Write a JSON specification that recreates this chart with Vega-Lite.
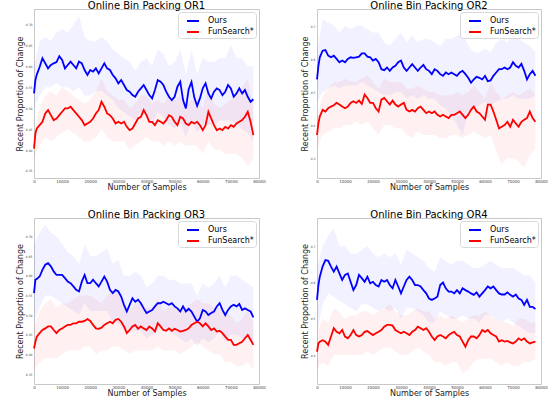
{
"$schema": "https://vega.github.io/schema/vega-lite/v6.json",
"padding": {"left": 15, "top": 0, "right": 0, "bottom": 0},
"background": "white",
"datasets": {
"lines": [
{"p":1,"x":0,"o":0.535,"f":0.403},{"p":1,"x":500,"o":0.567,"f":0.439},{"p":1,"x":1000,"o":0.580,"f":0.451},{"p":1,"x":2000,"o":0.598,"f":0.459},{"p":1,"x":3000,"o":0.619,"f":0.467},{"p":1,"x":4000,"o":0.607,"f":0.487},{"p":1,"x":5000,"o":0.595,"f":0.495},{"p":1,"x":6000,"o":0.603,"f":0.483},{"p":1,"x":7000,"o":0.607,"f":0.471},{"p":1,"x":8000,"o":0.610,"f":0.475},{"p":1,"x":9000,"o":0.624,"f":0.483},{"p":1,"x":10000,"o":0.615,"f":0.491},{"p":1,"x":11000,"o":0.595,"f":0.499},{"p":1,"x":12000,"o":0.603,"f":0.499},{"p":1,"x":13000,"o":0.611,"f":0.503},{"p":1,"x":14000,"o":0.603,"f":0.495},{"p":1,"x":15000,"o":0.595,"f":0.487},{"p":1,"x":16000,"o":0.611,"f":0.479},{"p":1,"x":17000,"o":0.607,"f":0.471},{"p":1,"x":18000,"o":0.591,"f":0.459},{"p":1,"x":19000,"o":0.579,"f":0.463},{"p":1,"x":20000,"o":0.591,"f":0.467},{"p":1,"x":21000,"o":0.587,"f":0.475},{"p":1,"x":22000,"o":0.595,"f":0.487},{"p":1,"x":23000,"o":0.583,"f":0.495},{"p":1,"x":24000,"o":0.595,"f":0.515},{"p":1,"x":25000,"o":0.607,"f":0.503},{"p":1,"x":26000,"o":0.595,"f":0.487},{"p":1,"x":27000,"o":0.591,"f":0.483},{"p":1,"x":28000,"o":0.579,"f":0.475},{"p":1,"x":29000,"o":0.571,"f":0.463},{"p":1,"x":30000,"o":0.559,"f":0.467},{"p":1,"x":31000,"o":0.567,"f":0.463},{"p":1,"x":32000,"o":0.555,"f":0.467},{"p":1,"x":33000,"o":0.543,"f":0.455},{"p":1,"x":34000,"o":0.539,"f":0.447},{"p":1,"x":35000,"o":0.531,"f":0.451},{"p":1,"x":36000,"o":0.527,"f":0.463},{"p":1,"x":37000,"o":0.539,"f":0.475},{"p":1,"x":38000,"o":0.547,"f":0.479},{"p":1,"x":39000,"o":0.555,"f":0.495},{"p":1,"x":40000,"o":0.543,"f":0.483},{"p":1,"x":41000,"o":0.531,"f":0.467},{"p":1,"x":42000,"o":0.523,"f":0.467},{"p":1,"x":43000,"o":0.543,"f":0.459},{"p":1,"x":44000,"o":0.567,"f":0.471},{"p":1,"x":45000,"o":0.563,"f":0.467},{"p":1,"x":46000,"o":0.555,"f":0.463},{"p":1,"x":47000,"o":0.539,"f":0.471},{"p":1,"x":48000,"o":0.527,"f":0.483},{"p":1,"x":49000,"o":0.519,"f":0.479},{"p":1,"x":50000,"o":0.527,"f":0.467},{"p":1,"x":51000,"o":0.551,"f":0.459},{"p":1,"x":52000,"o":0.563,"f":0.479},{"p":1,"x":53000,"o":0.519,"f":0.475},{"p":1,"x":54000,"o":0.499,"f":0.463},{"p":1,"x":55000,"o":0.545,"f":0.459},{"p":1,"x":56000,"o":0.562,"f":0.467},{"p":1,"x":57000,"o":0.525,"f":0.463},{"p":1,"x":58000,"o":0.505,"f":0.467},{"p":1,"x":59000,"o":0.523,"f":0.459},{"p":1,"x":60000,"o":0.547,"f":0.447},{"p":1,"x":61000,"o":0.559,"f":0.459},{"p":1,"x":62000,"o":0.535,"f":0.491},{"p":1,"x":63000,"o":0.523,"f":0.475},{"p":1,"x":64000,"o":0.539,"f":0.459},{"p":1,"x":65000,"o":0.547,"f":0.447},{"p":1,"x":66000,"o":0.543,"f":0.451},{"p":1,"x":67000,"o":0.531,"f":0.447},{"p":1,"x":68000,"o":0.539,"f":0.455},{"p":1,"x":69000,"o":0.555,"f":0.451},{"p":1,"x":70000,"o":0.547,"f":0.459},{"p":1,"x":71000,"o":0.527,"f":0.455},{"p":1,"x":72000,"o":0.535,"f":0.463},{"p":1,"x":73000,"o":0.547,"f":0.467},{"p":1,"x":74000,"o":0.535,"f":0.471},{"p":1,"x":75000,"o":0.543,"f":0.479},{"p":1,"x":76000,"o":0.527,"f":0.491},{"p":1,"x":77000,"o":0.515,"f":0.467},{"p":1,"x":78000,"o":0.521,"f":0.435},
{"p":2,"x":0,"o":0.538,"f":0.370},{"p":2,"x":500,"o":0.579,"f":0.405},{"p":2,"x":1000,"o":0.605,"f":0.426},{"p":2,"x":2000,"o":0.625,"f":0.446},{"p":2,"x":3000,"o":0.627,"f":0.441},{"p":2,"x":4000,"o":0.610,"f":0.451},{"p":2,"x":5000,"o":0.605,"f":0.456},{"p":2,"x":6000,"o":0.610,"f":0.460},{"p":2,"x":7000,"o":0.600,"f":0.467},{"p":2,"x":8000,"o":0.590,"f":0.462},{"p":2,"x":9000,"o":0.595,"f":0.456},{"p":2,"x":10000,"o":0.590,"f":0.451},{"p":2,"x":11000,"o":0.600,"f":0.456},{"p":2,"x":12000,"o":0.605,"f":0.467},{"p":2,"x":13000,"o":0.603,"f":0.472},{"p":2,"x":14000,"o":0.605,"f":0.467},{"p":2,"x":15000,"o":0.607,"f":0.474},{"p":2,"x":16000,"o":0.617,"f":0.464},{"p":2,"x":17000,"o":0.617,"f":0.492},{"p":2,"x":18000,"o":0.607,"f":0.482},{"p":2,"x":19000,"o":0.605,"f":0.467},{"p":2,"x":20000,"o":0.595,"f":0.467},{"p":2,"x":21000,"o":0.600,"f":0.451},{"p":2,"x":22000,"o":0.590,"f":0.441},{"p":2,"x":23000,"o":0.569,"f":0.477},{"p":2,"x":24000,"o":0.566,"f":0.482},{"p":2,"x":25000,"o":0.574,"f":0.472},{"p":2,"x":26000,"o":0.564,"f":0.462},{"p":2,"x":27000,"o":0.574,"f":0.474},{"p":2,"x":28000,"o":0.579,"f":0.462},{"p":2,"x":29000,"o":0.590,"f":0.456},{"p":2,"x":30000,"o":0.595,"f":0.462},{"p":2,"x":31000,"o":0.574,"f":0.467},{"p":2,"x":32000,"o":0.564,"f":0.446},{"p":2,"x":33000,"o":0.574,"f":0.441},{"p":2,"x":34000,"o":0.584,"f":0.446},{"p":2,"x":35000,"o":0.574,"f":0.441},{"p":2,"x":36000,"o":0.564,"f":0.451},{"p":2,"x":37000,"o":0.574,"f":0.456},{"p":2,"x":38000,"o":0.582,"f":0.446},{"p":2,"x":39000,"o":0.569,"f":0.436},{"p":2,"x":40000,"o":0.564,"f":0.441},{"p":2,"x":41000,"o":0.554,"f":0.436},{"p":2,"x":42000,"o":0.569,"f":0.441},{"p":2,"x":43000,"o":0.564,"f":0.431},{"p":2,"x":44000,"o":0.554,"f":0.426},{"p":2,"x":45000,"o":0.549,"f":0.431},{"p":2,"x":46000,"o":0.559,"f":0.426},{"p":2,"x":47000,"o":0.554,"f":0.421},{"p":2,"x":48000,"o":0.559,"f":0.431},{"p":2,"x":49000,"o":0.554,"f":0.431},{"p":2,"x":50000,"o":0.549,"f":0.436},{"p":2,"x":51000,"o":0.559,"f":0.441},{"p":2,"x":52000,"o":0.564,"f":0.431},{"p":2,"x":53000,"o":0.554,"f":0.421},{"p":2,"x":54000,"o":0.543,"f":0.431},{"p":2,"x":55000,"o":0.528,"f":0.446},{"p":2,"x":56000,"o":0.538,"f":0.456},{"p":2,"x":57000,"o":0.546,"f":0.441},{"p":2,"x":58000,"o":0.543,"f":0.436},{"p":2,"x":59000,"o":0.538,"f":0.426},{"p":2,"x":60000,"o":0.549,"f":0.416},{"p":2,"x":61000,"o":0.533,"f":0.462},{"p":2,"x":62000,"o":0.535,"f":0.462},{"p":2,"x":63000,"o":0.549,"f":0.441},{"p":2,"x":64000,"o":0.559,"f":0.416},{"p":2,"x":65000,"o":0.569,"f":0.390},{"p":2,"x":66000,"o":0.569,"f":0.395},{"p":2,"x":67000,"o":0.574,"f":0.400},{"p":2,"x":68000,"o":0.569,"f":0.410},{"p":2,"x":69000,"o":0.574,"f":0.395},{"p":2,"x":70000,"o":0.590,"f":0.416},{"p":2,"x":71000,"o":0.579,"f":0.405},{"p":2,"x":72000,"o":0.574,"f":0.395},{"p":2,"x":73000,"o":0.585,"f":0.410},{"p":2,"x":74000,"o":0.564,"f":0.416},{"p":2,"x":75000,"o":0.538,"f":0.421},{"p":2,"x":76000,"o":0.554,"f":0.441},{"p":2,"x":77000,"o":0.564,"f":0.421},{"p":2,"x":78000,"o":0.549,"f":0.410},
{"p":3,"x":0,"o":0.556,"f":0.415},{"p":3,"x":500,"o":0.590,"f":0.432},{"p":3,"x":1000,"o":0.592,"f":0.445},{"p":3,"x":2000,"o":0.598,"f":0.454},{"p":3,"x":3000,"o":0.615,"f":0.462},{"p":3,"x":4000,"o":0.628,"f":0.466},{"p":3,"x":5000,"o":0.632,"f":0.471},{"p":3,"x":6000,"o":0.624,"f":0.471},{"p":3,"x":7000,"o":0.611,"f":0.462},{"p":3,"x":8000,"o":0.602,"f":0.454},{"p":3,"x":9000,"o":0.602,"f":0.462},{"p":3,"x":10000,"o":0.602,"f":0.466},{"p":3,"x":11000,"o":0.594,"f":0.471},{"p":3,"x":12000,"o":0.585,"f":0.475},{"p":3,"x":13000,"o":0.581,"f":0.475},{"p":3,"x":14000,"o":0.573,"f":0.479},{"p":3,"x":15000,"o":0.564,"f":0.479},{"p":3,"x":16000,"o":0.560,"f":0.483},{"p":3,"x":17000,"o":0.585,"f":0.483},{"p":3,"x":18000,"o":0.602,"f":0.485},{"p":3,"x":19000,"o":0.581,"f":0.490},{"p":3,"x":20000,"o":0.581,"f":0.485},{"p":3,"x":21000,"o":0.590,"f":0.475},{"p":3,"x":22000,"o":0.581,"f":0.466},{"p":3,"x":23000,"o":0.573,"f":0.465},{"p":3,"x":24000,"o":0.585,"f":0.468},{"p":3,"x":25000,"o":0.598,"f":0.475},{"p":3,"x":26000,"o":0.585,"f":0.479},{"p":3,"x":27000,"o":0.564,"f":0.483},{"p":3,"x":28000,"o":0.556,"f":0.479},{"p":3,"x":29000,"o":0.564,"f":0.488},{"p":3,"x":30000,"o":0.560,"f":0.490},{"p":3,"x":31000,"o":0.547,"f":0.483},{"p":3,"x":32000,"o":0.526,"f":0.471},{"p":3,"x":33000,"o":0.509,"f":0.454},{"p":3,"x":34000,"o":0.526,"f":0.462},{"p":3,"x":35000,"o":0.543,"f":0.471},{"p":3,"x":36000,"o":0.534,"f":0.475},{"p":3,"x":37000,"o":0.539,"f":0.465},{"p":3,"x":38000,"o":0.530,"f":0.471},{"p":3,"x":39000,"o":0.517,"f":0.466},{"p":3,"x":40000,"o":0.505,"f":0.462},{"p":3,"x":41000,"o":0.509,"f":0.471},{"p":3,"x":42000,"o":0.513,"f":0.466},{"p":3,"x":43000,"o":0.522,"f":0.458},{"p":3,"x":44000,"o":0.530,"f":0.479},{"p":3,"x":45000,"o":0.530,"f":0.471},{"p":3,"x":46000,"o":0.534,"f":0.462},{"p":3,"x":47000,"o":0.530,"f":0.460},{"p":3,"x":48000,"o":0.526,"f":0.466},{"p":3,"x":49000,"o":0.530,"f":0.460},{"p":3,"x":50000,"o":0.522,"f":0.465},{"p":3,"x":51000,"o":0.517,"f":0.462},{"p":3,"x":52000,"o":0.509,"f":0.458},{"p":3,"x":53000,"o":0.522,"f":0.460},{"p":3,"x":54000,"o":0.509,"f":0.462},{"p":3,"x":55000,"o":0.516,"f":0.466},{"p":3,"x":56000,"o":0.509,"f":0.475},{"p":3,"x":57000,"o":0.496,"f":0.479},{"p":3,"x":58000,"o":0.483,"f":0.483},{"p":3,"x":59000,"o":0.492,"f":0.479},{"p":3,"x":60000,"o":0.513,"f":0.471},{"p":3,"x":61000,"o":0.509,"f":0.479},{"p":3,"x":62000,"o":0.500,"f":0.471},{"p":3,"x":63000,"o":0.505,"f":0.462},{"p":3,"x":64000,"o":0.509,"f":0.466},{"p":3,"x":65000,"o":0.522,"f":0.458},{"p":3,"x":66000,"o":0.530,"f":0.460},{"p":3,"x":67000,"o":0.513,"f":0.454},{"p":3,"x":68000,"o":0.500,"f":0.445},{"p":3,"x":69000,"o":0.513,"f":0.437},{"p":3,"x":70000,"o":0.522,"f":0.437},{"p":3,"x":71000,"o":0.526,"f":0.424},{"p":3,"x":72000,"o":0.522,"f":0.424},{"p":3,"x":73000,"o":0.528,"f":0.428},{"p":3,"x":74000,"o":0.513,"f":0.432},{"p":3,"x":75000,"o":0.517,"f":0.441},{"p":3,"x":76000,"o":0.513,"f":0.449},{"p":3,"x":77000,"o":0.509,"f":0.437},{"p":3,"x":78000,"o":0.494,"f":0.424},
{"p":4,"x":0,"o":0.552,"f":0.409},{"p":4,"x":500,"o":0.593,"f":0.432},{"p":4,"x":1000,"o":0.616,"f":0.437},{"p":4,"x":2000,"o":0.644,"f":0.441},{"p":4,"x":3000,"o":0.662,"f":0.437},{"p":4,"x":4000,"o":0.660,"f":0.428},{"p":4,"x":5000,"o":0.644,"f":0.451},{"p":4,"x":6000,"o":0.630,"f":0.474},{"p":4,"x":7000,"o":0.644,"f":0.464},{"p":4,"x":8000,"o":0.625,"f":0.460},{"p":4,"x":9000,"o":0.607,"f":0.469},{"p":4,"x":10000,"o":0.621,"f":0.451},{"p":4,"x":11000,"o":0.625,"f":0.446},{"p":4,"x":12000,"o":0.602,"f":0.455},{"p":4,"x":13000,"o":0.579,"f":0.469},{"p":4,"x":14000,"o":0.593,"f":0.455},{"p":4,"x":15000,"o":0.621,"f":0.451},{"p":4,"x":16000,"o":0.612,"f":0.455},{"p":4,"x":17000,"o":0.602,"f":0.464},{"p":4,"x":18000,"o":0.616,"f":0.466},{"p":4,"x":19000,"o":0.598,"f":0.460},{"p":4,"x":20000,"o":0.602,"f":0.455},{"p":4,"x":21000,"o":0.593,"f":0.460},{"p":4,"x":22000,"o":0.589,"f":0.464},{"p":4,"x":23000,"o":0.607,"f":0.469},{"p":4,"x":24000,"o":0.602,"f":0.478},{"p":4,"x":25000,"o":0.607,"f":0.483},{"p":4,"x":26000,"o":0.593,"f":0.483},{"p":4,"x":27000,"o":0.584,"f":0.481},{"p":4,"x":28000,"o":0.607,"f":0.469},{"p":4,"x":29000,"o":0.589,"f":0.464},{"p":4,"x":30000,"o":0.570,"f":0.460},{"p":4,"x":31000,"o":0.589,"f":0.464},{"p":4,"x":32000,"o":0.607,"f":0.460},{"p":4,"x":33000,"o":0.616,"f":0.455},{"p":4,"x":34000,"o":0.607,"f":0.464},{"p":4,"x":35000,"o":0.593,"f":0.469},{"p":4,"x":36000,"o":0.593,"f":0.478},{"p":4,"x":37000,"o":0.589,"f":0.474},{"p":4,"x":38000,"o":0.579,"f":0.469},{"p":4,"x":39000,"o":0.570,"f":0.474},{"p":4,"x":40000,"o":0.556,"f":0.464},{"p":4,"x":41000,"o":0.552,"f":0.451},{"p":4,"x":42000,"o":0.556,"f":0.441},{"p":4,"x":43000,"o":0.561,"f":0.451},{"p":4,"x":44000,"o":0.593,"f":0.455},{"p":4,"x":45000,"o":0.600,"f":0.451},{"p":4,"x":46000,"o":0.584,"f":0.446},{"p":4,"x":47000,"o":0.575,"f":0.455},{"p":4,"x":48000,"o":0.575,"f":0.460},{"p":4,"x":49000,"o":0.570,"f":0.464},{"p":4,"x":50000,"o":0.579,"f":0.455},{"p":4,"x":51000,"o":0.570,"f":0.451},{"p":4,"x":52000,"o":0.584,"f":0.437},{"p":4,"x":53000,"o":0.579,"f":0.423},{"p":4,"x":54000,"o":0.575,"f":0.441},{"p":4,"x":55000,"o":0.570,"f":0.451},{"p":4,"x":56000,"o":0.566,"f":0.451},{"p":4,"x":57000,"o":0.573,"f":0.446},{"p":4,"x":58000,"o":0.561,"f":0.455},{"p":4,"x":59000,"o":0.570,"f":0.469},{"p":4,"x":60000,"o":0.579,"f":0.464},{"p":4,"x":61000,"o":0.589,"f":0.469},{"p":4,"x":62000,"o":0.584,"f":0.460},{"p":4,"x":63000,"o":0.589,"f":0.455},{"p":4,"x":64000,"o":0.579,"f":0.451},{"p":4,"x":65000,"o":0.570,"f":0.437},{"p":4,"x":66000,"o":0.567,"f":0.441},{"p":4,"x":67000,"o":0.567,"f":0.437},{"p":4,"x":68000,"o":0.573,"f":0.439},{"p":4,"x":69000,"o":0.566,"f":0.435},{"p":4,"x":70000,"o":0.561,"f":0.432},{"p":4,"x":71000,"o":0.567,"f":0.437},{"p":4,"x":72000,"o":0.556,"f":0.446},{"p":4,"x":73000,"o":0.552,"f":0.441},{"p":4,"x":74000,"o":0.538,"f":0.446},{"p":4,"x":75000,"o":0.552,"f":0.437},{"p":4,"x":76000,"o":0.533,"f":0.432},{"p":4,"x":77000,"o":0.533,"f":0.435},{"p":4,"x":78000,"o":0.527,"f":0.437}
],
"bands": [
{"p":1,"x":0,"ol":0.50,"oh":0.60,"fl":0.38,"fh":0.44},{"p":1,"x":2000,"ol":0.53,"oh":0.66,"fl":0.41,"fh":0.50},{"p":1,"x":4000,"ol":0.55,"oh":0.67,"fl":0.43,"fh":0.53},{"p":1,"x":6000,"ol":0.55,"oh":0.66,"fl":0.42,"fh":0.54},{"p":1,"x":8000,"ol":0.56,"oh":0.68,"fl":0.43,"fh":0.53},{"p":1,"x":10000,"ol":0.55,"oh":0.69,"fl":0.44,"fh":0.55},{"p":1,"x":12000,"ol":0.55,"oh":0.68,"fl":0.45,"fh":0.54},{"p":1,"x":14000,"ol":0.54,"oh":0.70,"fl":0.44,"fh":0.53},{"p":1,"x":16000,"ol":0.55,"oh":0.72,"fl":0.43,"fh":0.52},{"p":1,"x":18000,"ol":0.53,"oh":0.67,"fl":0.42,"fh":0.51},{"p":1,"x":20000,"ol":0.53,"oh":0.66,"fl":0.42,"fh":0.52},{"p":1,"x":22000,"ol":0.54,"oh":0.66,"fl":0.43,"fh":0.54},{"p":1,"x":24000,"ol":0.54,"oh":0.67,"fl":0.45,"fh":0.57},{"p":1,"x":26000,"ol":0.53,"oh":0.66,"fl":0.43,"fh":0.54},{"p":1,"x":28000,"ol":0.52,"oh":0.64,"fl":0.42,"fh":0.53},{"p":1,"x":30000,"ol":0.50,"oh":0.63,"fl":0.42,"fh":0.52},{"p":1,"x":32000,"ol":0.49,"oh":0.62,"fl":0.42,"fh":0.52},{"p":1,"x":34000,"ol":0.48,"oh":0.61,"fl":0.40,"fh":0.50},{"p":1,"x":36000,"ol":0.47,"oh":0.59,"fl":0.41,"fh":0.51},{"p":1,"x":38000,"ol":0.49,"oh":0.61,"fl":0.42,"fh":0.53},{"p":1,"x":40000,"ol":0.48,"oh":0.62,"fl":0.43,"fh":0.53},{"p":1,"x":42000,"ol":0.46,"oh":0.60,"fl":0.42,"fh":0.51},{"p":1,"x":44000,"ol":0.49,"oh":0.64,"fl":0.42,"fh":0.52},{"p":1,"x":46000,"ol":0.48,"oh":0.63,"fl":0.41,"fh":0.51},{"p":1,"x":48000,"ol":0.46,"oh":0.60,"fl":0.42,"fh":0.53},{"p":1,"x":50000,"ol":0.45,"oh":0.61,"fl":0.41,"fh":0.52},{"p":1,"x":52000,"ol":0.47,"oh":0.64,"fl":0.42,"fh":0.53},{"p":1,"x":54000,"ol":0.43,"oh":0.58,"fl":0.41,"fh":0.51},{"p":1,"x":56000,"ol":0.47,"oh":0.64,"fl":0.41,"fh":0.52},{"p":1,"x":58000,"ol":0.44,"oh":0.58,"fl":0.41,"fh":0.52},{"p":1,"x":60000,"ol":0.46,"oh":0.62,"fl":0.39,"fh":0.50},{"p":1,"x":62000,"ol":0.46,"oh":0.61,"fl":0.42,"fh":0.55},{"p":1,"x":64000,"ol":0.46,"oh":0.61,"fl":0.40,"fh":0.51},{"p":1,"x":66000,"ol":0.47,"oh":0.62,"fl":0.40,"fh":0.50},{"p":1,"x":68000,"ol":0.47,"oh":0.62,"fl":0.39,"fh":0.51},{"p":1,"x":70000,"ol":0.47,"oh":0.65,"fl":0.39,"fh":0.52},{"p":1,"x":72000,"ol":0.46,"oh":0.62,"fl":0.39,"fh":0.53},{"p":1,"x":74000,"ol":0.45,"oh":0.62,"fl":0.38,"fh":0.55},{"p":1,"x":76000,"ol":0.44,"oh":0.60,"fl":0.36,"fh":0.57},{"p":1,"x":78000,"ol":0.42,"oh":0.60,"fl":0.38,"fh":0.50},
{"p":2,"x":0,"ol":0.47,"oh":0.62,"fl":0.33,"fh":0.42},{"p":2,"x":2000,"ol":0.50,"oh":0.72,"fl":0.37,"fh":0.49},{"p":2,"x":4000,"ol":0.51,"oh":0.71,"fl":0.38,"fh":0.51},{"p":2,"x":6000,"ol":0.52,"oh":0.70,"fl":0.39,"fh":0.53},{"p":2,"x":8000,"ol":0.51,"oh":0.68,"fl":0.39,"fh":0.53},{"p":2,"x":10000,"ol":0.52,"oh":0.70,"fl":0.40,"fh":0.54},{"p":2,"x":12000,"ol":0.52,"oh":0.69,"fl":0.40,"fh":0.53},{"p":2,"x":14000,"ol":0.52,"oh":0.70,"fl":0.41,"fh":0.53},{"p":2,"x":16000,"ol":0.53,"oh":0.70,"fl":0.40,"fh":0.54},{"p":2,"x":18000,"ol":0.52,"oh":0.69,"fl":0.41,"fh":0.55},{"p":2,"x":20000,"ol":0.51,"oh":0.68,"fl":0.39,"fh":0.53},{"p":2,"x":22000,"ol":0.50,"oh":0.68,"fl":0.37,"fh":0.51},{"p":2,"x":24000,"ol":0.49,"oh":0.65,"fl":0.40,"fh":0.54},{"p":2,"x":26000,"ol":0.49,"oh":0.64,"fl":0.40,"fh":0.53},{"p":2,"x":28000,"ol":0.50,"oh":0.66,"fl":0.39,"fh":0.53},{"p":2,"x":30000,"ol":0.50,"oh":0.68,"fl":0.39,"fh":0.53},{"p":2,"x":32000,"ol":0.48,"oh":0.65,"fl":0.37,"fh":0.51},{"p":2,"x":34000,"ol":0.49,"oh":0.67,"fl":0.36,"fh":0.51},{"p":2,"x":36000,"ol":0.48,"oh":0.65,"fl":0.38,"fh":0.52},{"p":2,"x":38000,"ol":0.49,"oh":0.66,"fl":0.37,"fh":0.51},{"p":2,"x":40000,"ol":0.48,"oh":0.66,"fl":0.37,"fh":0.50},{"p":2,"x":42000,"ol":0.48,"oh":0.65,"fl":0.37,"fh":0.50},{"p":2,"x":44000,"ol":0.46,"oh":0.64,"fl":0.36,"fh":0.49},{"p":2,"x":46000,"ol":0.45,"oh":0.66,"fl":0.36,"fh":0.49},{"p":2,"x":48000,"ol":0.43,"oh":0.66,"fl":0.37,"fh":0.49},{"p":2,"x":50000,"ol":0.40,"oh":0.67,"fl":0.37,"fh":0.50},{"p":2,"x":52000,"ol":0.37,"oh":0.68,"fl":0.36,"fh":0.49},{"p":2,"x":54000,"ol":0.44,"oh":0.64,"fl":0.37,"fh":0.50},{"p":2,"x":56000,"ol":0.45,"oh":0.62,"fl":0.38,"fh":0.52},{"p":2,"x":58000,"ol":0.46,"oh":0.62,"fl":0.37,"fh":0.50},{"p":2,"x":60000,"ol":0.47,"oh":0.63,"fl":0.36,"fh":0.48},{"p":2,"x":62000,"ol":0.46,"oh":0.62,"fl":0.37,"fh":0.53},{"p":2,"x":64000,"ol":0.47,"oh":0.65,"fl":0.32,"fh":0.50},{"p":2,"x":66000,"ol":0.48,"oh":0.66,"fl":0.28,"fh":0.48},{"p":2,"x":68000,"ol":0.48,"oh":0.65,"fl":0.30,"fh":0.49},{"p":2,"x":70000,"ol":0.49,"oh":0.68,"fl":0.30,"fh":0.50},{"p":2,"x":72000,"ol":0.48,"oh":0.66,"fl":0.29,"fh":0.49},{"p":2,"x":74000,"ol":0.48,"oh":0.65,"fl":0.27,"fh":0.50},{"p":2,"x":76000,"ol":0.48,"oh":0.64,"fl":0.31,"fh":0.51},{"p":2,"x":78000,"ol":0.49,"oh":0.62,"fl":0.33,"fh":0.49},
{"p":3,"x":0,"ol":0.48,"oh":0.68,"fl":0.36,"fh":0.47},{"p":3,"x":2000,"ol":0.52,"oh":0.71,"fl":0.38,"fh":0.51},{"p":3,"x":4000,"ol":0.55,"oh":0.73,"fl":0.39,"fh":0.53},{"p":3,"x":6000,"ol":0.55,"oh":0.71,"fl":0.39,"fh":0.54},{"p":3,"x":8000,"ol":0.54,"oh":0.70,"fl":0.39,"fh":0.52},{"p":3,"x":10000,"ol":0.53,"oh":0.68,"fl":0.40,"fh":0.53},{"p":3,"x":12000,"ol":0.52,"oh":0.66,"fl":0.41,"fh":0.53},{"p":3,"x":14000,"ol":0.51,"oh":0.65,"fl":0.41,"fh":0.54},{"p":3,"x":16000,"ol":0.50,"oh":0.63,"fl":0.41,"fh":0.55},{"p":3,"x":18000,"ol":0.53,"oh":0.68,"fl":0.42,"fh":0.55},{"p":3,"x":20000,"ol":0.51,"oh":0.65,"fl":0.42,"fh":0.55},{"p":3,"x":22000,"ol":0.51,"oh":0.65,"fl":0.40,"fh":0.54},{"p":3,"x":24000,"ol":0.51,"oh":0.66,"fl":0.41,"fh":0.53},{"p":3,"x":26000,"ol":0.51,"oh":0.67,"fl":0.41,"fh":0.55},{"p":3,"x":28000,"ol":0.48,"oh":0.63,"fl":0.42,"fh":0.56},{"p":3,"x":30000,"ol":0.48,"oh":0.64,"fl":0.42,"fh":0.56},{"p":3,"x":32000,"ol":0.46,"oh":0.60,"fl":0.41,"fh":0.53},{"p":3,"x":34000,"ol":0.46,"oh":0.60,"fl":0.40,"fh":0.51},{"p":3,"x":36000,"ol":0.46,"oh":0.61,"fl":0.41,"fh":0.53},{"p":3,"x":38000,"ol":0.46,"oh":0.60,"fl":0.41,"fh":0.53},{"p":3,"x":40000,"ol":0.44,"oh":0.57,"fl":0.41,"fh":0.52},{"p":3,"x":42000,"ol":0.45,"oh":0.58,"fl":0.41,"fh":0.52},{"p":3,"x":44000,"ol":0.46,"oh":0.60,"fl":0.42,"fh":0.54},{"p":3,"x":46000,"ol":0.47,"oh":0.60,"fl":0.41,"fh":0.51},{"p":3,"x":48000,"ol":0.46,"oh":0.59,"fl":0.41,"fh":0.52},{"p":3,"x":50000,"ol":0.45,"oh":0.59,"fl":0.41,"fh":0.52},{"p":3,"x":52000,"ol":0.44,"oh":0.58,"fl":0.40,"fh":0.51},{"p":3,"x":54000,"ol":0.43,"oh":0.58,"fl":0.41,"fh":0.52},{"p":3,"x":56000,"ol":0.44,"oh":0.58,"fl":0.42,"fh":0.53},{"p":3,"x":58000,"ol":0.42,"oh":0.55,"fl":0.43,"fh":0.54},{"p":3,"x":60000,"ol":0.44,"oh":0.58,"fl":0.42,"fh":0.53},{"p":3,"x":62000,"ol":0.43,"oh":0.57,"fl":0.41,"fh":0.53},{"p":3,"x":64000,"ol":0.44,"oh":0.58,"fl":0.40,"fh":0.52},{"p":3,"x":66000,"ol":0.46,"oh":0.60,"fl":0.40,"fh":0.52},{"p":3,"x":68000,"ol":0.43,"oh":0.57,"fl":0.38,"fh":0.50},{"p":3,"x":70000,"ol":0.45,"oh":0.60,"fl":0.38,"fh":0.50},{"p":3,"x":72000,"ol":0.45,"oh":0.60,"fl":0.37,"fh":0.48},{"p":3,"x":74000,"ol":0.44,"oh":0.59,"fl":0.37,"fh":0.49},{"p":3,"x":76000,"ol":0.44,"oh":0.58,"fl":0.38,"fh":0.51},{"p":3,"x":78000,"ol":0.43,"oh":0.57,"fl":0.36,"fh":0.48},
{"p":4,"x":0,"ol":0.46,"oh":0.64,"fl":0.36,"fh":0.46},{"p":4,"x":2000,"ol":0.54,"oh":0.70,"fl":0.38,"fh":0.50},{"p":4,"x":4000,"ol":0.57,"oh":0.73,"fl":0.37,"fh":0.49},{"p":4,"x":6000,"ol":0.56,"oh":0.75,"fl":0.40,"fh":0.53},{"p":4,"x":8000,"ol":0.55,"oh":0.70,"fl":0.40,"fh":0.52},{"p":4,"x":10000,"ol":0.54,"oh":0.70,"fl":0.40,"fh":0.50},{"p":4,"x":12000,"ol":0.53,"oh":0.68,"fl":0.40,"fh":0.51},{"p":4,"x":14000,"ol":0.52,"oh":0.68,"fl":0.40,"fh":0.51},{"p":4,"x":16000,"ol":0.54,"oh":0.69,"fl":0.40,"fh":0.52},{"p":4,"x":18000,"ol":0.54,"oh":0.70,"fl":0.41,"fh":0.52},{"p":4,"x":20000,"ol":0.53,"oh":0.68,"fl":0.40,"fh":0.51},{"p":4,"x":22000,"ol":0.52,"oh":0.67,"fl":0.41,"fh":0.52},{"p":4,"x":24000,"ol":0.53,"oh":0.68,"fl":0.42,"fh":0.53},{"p":4,"x":26000,"ol":0.52,"oh":0.67,"fl":0.42,"fh":0.54},{"p":4,"x":28000,"ol":0.53,"oh":0.68,"fl":0.41,"fh":0.52},{"p":4,"x":30000,"ol":0.50,"oh":0.65,"fl":0.40,"fh":0.51},{"p":4,"x":32000,"ol":0.53,"oh":0.69,"fl":0.40,"fh":0.51},{"p":4,"x":34000,"ol":0.53,"oh":0.68,"fl":0.41,"fh":0.52},{"p":4,"x":36000,"ol":0.52,"oh":0.67,"fl":0.42,"fh":0.53},{"p":4,"x":38000,"ol":0.51,"oh":0.66,"fl":0.41,"fh":0.52},{"p":4,"x":40000,"ol":0.49,"oh":0.64,"fl":0.40,"fh":0.52},{"p":4,"x":42000,"ol":0.49,"oh":0.63,"fl":0.38,"fh":0.50},{"p":4,"x":44000,"ol":0.52,"oh":0.67,"fl":0.38,"fh":0.51},{"p":4,"x":46000,"ol":0.51,"oh":0.66,"fl":0.37,"fh":0.50},{"p":4,"x":48000,"ol":0.50,"oh":0.65,"fl":0.38,"fh":0.51},{"p":4,"x":50000,"ol":0.50,"oh":0.66,"fl":0.38,"fh":0.50},{"p":4,"x":52000,"ol":0.51,"oh":0.66,"fl":0.35,"fh":0.49},{"p":4,"x":54000,"ol":0.50,"oh":0.65,"fl":0.36,"fh":0.50},{"p":4,"x":56000,"ol":0.50,"oh":0.64,"fl":0.38,"fh":0.51},{"p":4,"x":58000,"ol":0.49,"oh":0.64,"fl":0.39,"fh":0.51},{"p":4,"x":60000,"ol":0.51,"oh":0.65,"fl":0.39,"fh":0.52},{"p":4,"x":62000,"ol":0.51,"oh":0.66,"fl":0.39,"fh":0.51},{"p":4,"x":64000,"ol":0.50,"oh":0.65,"fl":0.38,"fh":0.50},{"p":4,"x":66000,"ol":0.49,"oh":0.64,"fl":0.37,"fh":0.49},{"p":4,"x":68000,"ol":0.50,"oh":0.64,"fl":0.38,"fh":0.49},{"p":4,"x":70000,"ol":0.49,"oh":0.64,"fl":0.37,"fh":0.48},{"p":4,"x":72000,"ol":0.48,"oh":0.63,"fl":0.37,"fh":0.50},{"p":4,"x":74000,"ol":0.47,"oh":0.62,"fl":0.38,"fh":0.50},{"p":4,"x":76000,"ol":0.46,"oh":0.62,"fl":0.38,"fh":0.49},{"p":4,"x":78000,"ol":0.46,"oh":0.60,"fl":0.39,"fh":0.49}
]
},
"columns": 2,
"bounds": "flush",
"spacing": {"row": 40, "column": 58},
"resolve": {"scale": {"color": "independent"}, "legend": {"color": "independent"}},
"concat": [
{
"width": 225, "height": 169,
"title": "Online Bin Packing OR1",
"encoding": {"x": {"field": "x", "type": "quantitative", "scale": {"domain": [0, 80000], "nice": false}, "axis": {"values": [0,10000,20000,30000,40000,50000,60000,70000,80000], "format": "d", "labelFontSize": 4, "labelOverlap": false}, "title": "Number of Samples"}},
"layer": [
{"data": {"name": "bands"}, "transform": [{"filter": "datum.p == 1"}], "mark": {"type": "area", "color": "#0000ff", "opacity": 0.055},
 "encoding": {"y": {"field": "ol", "type": "quantitative", "scale": {"domain": [0.3325, 0.737], "nice": false, "zero": false}, "axis": {"values": [0.35,0.4,0.45,0.5,0.55,0.6,0.65,0.7], "format": ".2f", "labelOverlap": false}, "title": "Recent Proportion of Change"}, "y2": {"field": "oh"}}},
{"data": {"name": "bands"}, "transform": [{"filter": "datum.p == 1"}], "mark": {"type": "area", "color": "#ff0000", "opacity": 0.055},
 "encoding": {"y": {"field": "fl", "type": "quantitative", "scale": {"domain": [0.3325, 0.737], "nice": false, "zero": false}, "axis": {"values": [0.35,0.4,0.45,0.5,0.55,0.6,0.65,0.7], "format": ".2f", "labelOverlap": false}, "title": "Recent Proportion of Change"}, "y2": {"field": "fh"}}},
{"data": {"name": "lines"}, "transform": [{"filter": "datum.p == 1"}], "mark": {"type": "line", "strokeWidth": 1.8},
 "encoding": {"y": {"field": "o", "type": "quantitative", "scale": {"domain": [0.3325, 0.737], "nice": false, "zero": false}, "axis": {"values": [0.35,0.4,0.45,0.5,0.55,0.6,0.65,0.7], "format": ".2f", "labelOverlap": false}, "title": "Recent Proportion of Change"},
  "color": {"datum": "Ours", "type": "nominal", "scale": {"domain": ["Ours", "FunSearch*"], "range": ["#0000ff", "#ff0000"]}, "legend": {"title": null}}}},
{"data": {"name": "lines"}, "transform": [{"filter": "datum.p == 1"}], "mark": {"type": "line", "strokeWidth": 1.8},
 "encoding": {"y": {"field": "f", "type": "quantitative", "scale": {"domain": [0.3325, 0.737], "nice": false, "zero": false}, "axis": {"values": [0.35,0.4,0.45,0.5,0.55,0.6,0.65,0.7], "format": ".2f", "labelOverlap": false}, "title": "Recent Proportion of Change"},
  "color": {"datum": "FunSearch*", "type": "nominal", "scale": {"domain": ["Ours", "FunSearch*"], "range": ["#0000ff", "#ff0000"]}, "legend": {"title": null}}}}
]
},
{
"width": 224, "height": 169,
"title": "Online Bin Packing OR2",
"encoding": {"x": {"field": "x", "type": "quantitative", "scale": {"domain": [0, 80000], "nice": false}, "axis": {"values": [0,10000,20000,30000,40000,50000,60000,70000,80000], "format": "d", "labelFontSize": 4, "labelOverlap": false}, "title": "Number of Samples"}},
"layer": [
{"data": {"name": "bands"}, "transform": [{"filter": "datum.p == 2"}], "mark": {"type": "area", "color": "#0000ff", "opacity": 0.055},
 "encoding": {"y": {"field": "ol", "type": "quantitative", "scale": {"domain": [0.24, 0.751], "nice": false, "zero": false}, "axis": {"values": [0.3,0.4,0.5,0.6,0.7], "format": ".1f", "labelOverlap": false}, "title": "Recent Proportion of Change"}, "y2": {"field": "oh"}}},
{"data": {"name": "bands"}, "transform": [{"filter": "datum.p == 2"}], "mark": {"type": "area", "color": "#ff0000", "opacity": 0.055},
 "encoding": {"y": {"field": "fl", "type": "quantitative", "scale": {"domain": [0.24, 0.751], "nice": false, "zero": false}, "axis": {"values": [0.3,0.4,0.5,0.6,0.7], "format": ".1f", "labelOverlap": false}, "title": "Recent Proportion of Change"}, "y2": {"field": "fh"}}},
{"data": {"name": "lines"}, "transform": [{"filter": "datum.p == 2"}], "mark": {"type": "line", "strokeWidth": 1.8},
 "encoding": {"y": {"field": "o", "type": "quantitative", "scale": {"domain": [0.24, 0.751], "nice": false, "zero": false}, "axis": {"values": [0.3,0.4,0.5,0.6,0.7], "format": ".1f", "labelOverlap": false}, "title": "Recent Proportion of Change"},
  "color": {"datum": "Ours", "type": "nominal", "scale": {"domain": ["Ours", "FunSearch*"], "range": ["#0000ff", "#ff0000"]}, "legend": {"title": null}}}},
{"data": {"name": "lines"}, "transform": [{"filter": "datum.p == 2"}], "mark": {"type": "line", "strokeWidth": 1.8},
 "encoding": {"y": {"field": "f", "type": "quantitative", "scale": {"domain": [0.24, 0.751], "nice": false, "zero": false}, "axis": {"values": [0.3,0.4,0.5,0.6,0.7], "format": ".1f", "labelOverlap": false}, "title": "Recent Proportion of Change"},
  "color": {"datum": "FunSearch*", "type": "nominal", "scale": {"domain": ["Ours", "FunSearch*"], "range": ["#0000ff", "#ff0000"]}, "legend": {"title": null}}}}
]
},
{
"width": 225, "height": 166,
"title": "Online Bin Packing OR3",
"encoding": {"x": {"field": "x", "type": "quantitative", "scale": {"domain": [0, 80000], "nice": false}, "axis": {"values": [0,10000,20000,30000,40000,50000,60000,70000,80000], "format": "d", "labelFontSize": 4, "labelOverlap": false}, "title": "Number of Samples"}},
"layer": [
{"data": {"name": "bands"}, "transform": [{"filter": "datum.p == 3"}], "mark": {"type": "area", "color": "#0000ff", "opacity": 0.055},
 "encoding": {"y": {"field": "ol", "type": "quantitative", "scale": {"domain": [0.3245, 0.747], "nice": false, "zero": false}, "axis": {"values": [0.35,0.4,0.45,0.5,0.55,0.6,0.65,0.7], "format": ".2f", "labelOverlap": false}, "title": "Recent Proportion of Change"}, "y2": {"field": "oh"}}},
{"data": {"name": "bands"}, "transform": [{"filter": "datum.p == 3"}], "mark": {"type": "area", "color": "#ff0000", "opacity": 0.055},
 "encoding": {"y": {"field": "fl", "type": "quantitative", "scale": {"domain": [0.3245, 0.747], "nice": false, "zero": false}, "axis": {"values": [0.35,0.4,0.45,0.5,0.55,0.6,0.65,0.7], "format": ".2f", "labelOverlap": false}, "title": "Recent Proportion of Change"}, "y2": {"field": "fh"}}},
{"data": {"name": "lines"}, "transform": [{"filter": "datum.p == 3"}], "mark": {"type": "line", "strokeWidth": 1.8},
 "encoding": {"y": {"field": "o", "type": "quantitative", "scale": {"domain": [0.3245, 0.747], "nice": false, "zero": false}, "axis": {"values": [0.35,0.4,0.45,0.5,0.55,0.6,0.65,0.7], "format": ".2f", "labelOverlap": false}, "title": "Recent Proportion of Change"},
  "color": {"datum": "Ours", "type": "nominal", "scale": {"domain": ["Ours", "FunSearch*"], "range": ["#0000ff", "#ff0000"]}, "legend": {"title": null}}}},
{"data": {"name": "lines"}, "transform": [{"filter": "datum.p == 3"}], "mark": {"type": "line", "strokeWidth": 1.8},
 "encoding": {"y": {"field": "f", "type": "quantitative", "scale": {"domain": [0.3245, 0.747], "nice": false, "zero": false}, "axis": {"values": [0.35,0.4,0.45,0.5,0.55,0.6,0.65,0.7], "format": ".2f", "labelOverlap": false}, "title": "Recent Proportion of Change"},
  "color": {"datum": "FunSearch*", "type": "nominal", "scale": {"domain": ["Ours", "FunSearch*"], "range": ["#0000ff", "#ff0000"]}, "legend": {"title": null}}}}
]
},
{
"width": 224, "height": 166,
"title": "Online Bin Packing OR4",
"encoding": {"x": {"field": "x", "type": "quantitative", "scale": {"domain": [0, 80000], "nice": false}, "axis": {"values": [0,10000,20000,30000,40000,50000,60000,70000,80000], "format": "d", "labelFontSize": 4, "labelOverlap": false}, "title": "Number of Samples"}},
"layer": [
{"data": {"name": "bands"}, "transform": [{"filter": "datum.p == 4"}], "mark": {"type": "area", "color": "#0000ff", "opacity": 0.055},
 "encoding": {"y": {"field": "ol", "type": "quantitative", "scale": {"domain": [0.32, 0.778], "nice": false, "zero": false}, "axis": {"values": [0.4,0.5,0.6,0.7], "format": ".1f", "labelOverlap": false}, "title": "Recent Proportion of Change"}, "y2": {"field": "oh"}}},
{"data": {"name": "bands"}, "transform": [{"filter": "datum.p == 4"}], "mark": {"type": "area", "color": "#ff0000", "opacity": 0.055},
 "encoding": {"y": {"field": "fl", "type": "quantitative", "scale": {"domain": [0.32, 0.778], "nice": false, "zero": false}, "axis": {"values": [0.4,0.5,0.6,0.7], "format": ".1f", "labelOverlap": false}, "title": "Recent Proportion of Change"}, "y2": {"field": "fh"}}},
{"data": {"name": "lines"}, "transform": [{"filter": "datum.p == 4"}], "mark": {"type": "line", "strokeWidth": 1.8},
 "encoding": {"y": {"field": "o", "type": "quantitative", "scale": {"domain": [0.32, 0.778], "nice": false, "zero": false}, "axis": {"values": [0.4,0.5,0.6,0.7], "format": ".1f", "labelOverlap": false}, "title": "Recent Proportion of Change"},
  "color": {"datum": "Ours", "type": "nominal", "scale": {"domain": ["Ours", "FunSearch*"], "range": ["#0000ff", "#ff0000"]}, "legend": {"title": null}}}},
{"data": {"name": "lines"}, "transform": [{"filter": "datum.p == 4"}], "mark": {"type": "line", "strokeWidth": 1.8},
 "encoding": {"y": {"field": "f", "type": "quantitative", "scale": {"domain": [0.32, 0.778], "nice": false, "zero": false}, "axis": {"values": [0.4,0.5,0.6,0.7], "format": ".1f", "labelOverlap": false}, "title": "Recent Proportion of Change"},
  "color": {"datum": "FunSearch*", "type": "nominal", "scale": {"domain": ["Ours", "FunSearch*"], "range": ["#0000ff", "#ff0000"]}, "legend": {"title": null}}}}
]
}
],
"config": {
 "font": "DejaVu Sans",
 "view": {"stroke": "#c8c8c8", "strokeWidth": 1},
 "title": {"fontSize": 10, "fontWeight": "normal", "color": "#000000", "offset": -2, "anchor": "middle"},
 "axis": {"domain": false, "grid": false, "ticks": false, "labelFontSize": 3, "labelColor": "#444444", "labelPadding": 2, "labelOverlap": false, "labelBound": false, "labelFlush": false, "titleFontSize": 8, "titleFontWeight": "normal", "titleColor": "#222222"},
 "axisX": {"titlePadding": 0, "labelPadding": 1},
 "axisY": {"titlePadding": 1},
 "legend": {"orient": "top-right", "offset": 3, "fillColor": "white", "strokeColor": "#d8d8d8", "cornerRadius": 3, "padding": 2, "labelFontSize": 8, "labelColor": "#000000", "symbolType": "stroke", "symbolSize": 144, "symbolStrokeWidth": 2, "symbolOffset": 6, "rowPadding": -1, "labelOffset": 8}
}
}
